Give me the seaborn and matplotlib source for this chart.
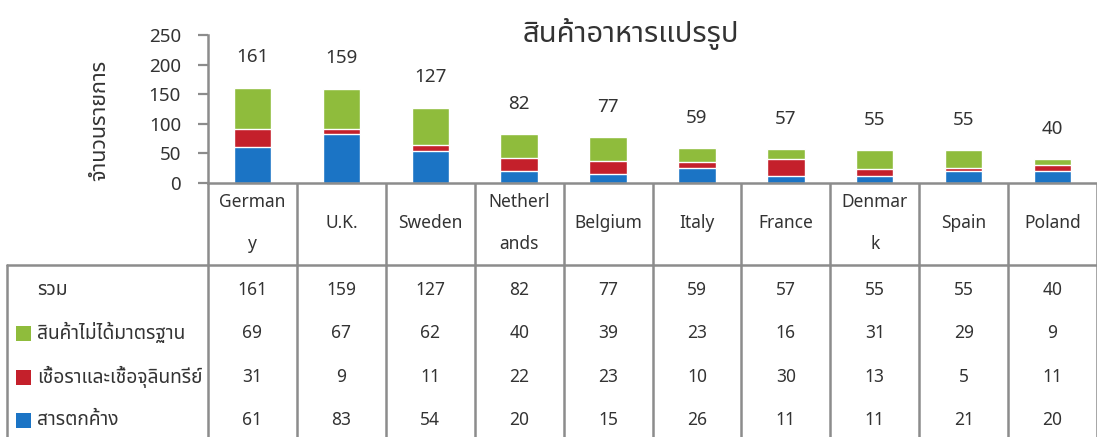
import numpy as np
import pandas as pd
import matplotlib
matplotlib.use("Agg")
import matplotlib.pyplot as plt
import matplotlib.transforms as mtrans
from matplotlib import font_manager as fm
from matplotlib.ft2font import FT2Font
from matplotlib.patches import Rectangle
import seaborn as sns

# ---------------- data ----------------
title = "สินค้าอาหารแปรรูป"
ylabel = "จำนวนรายการ"
countries = ["Germany", "U.K.", "Sweden", "Netherlands", "Belgium",
             "Italy", "France", "Denmark", "Spain", "Poland"]
header_labels = ["German\ny", "U.K.", "Sweden", "Netherl\nands", "Belgium",
                 "Italy", "France", "Denmar\nk", "Spain", "Poland"]
total_label = "รวม"
series_names = ["สินค้าไม่ได้มาตรฐาน", "เชื้อราและเชื้อจุลินทรีย์", "สารตกค้าง"]
substandard = [69, 67, 62, 40, 39, 23, 16, 31, 29, 9]      # green
mould = [31, 9, 11, 22, 23, 10, 30, 13, 5, 11]              # red
residue = [61, 83, 54, 20, 15, 26, 11, 11, 21, 20]          # blue
totals = [161, 159, 127, 82, 77, 59, 57, 55, 55, 40]
yticks = [0, 50, 100, 150, 200, 250]

GREEN = "#8fbc3c"
RED = "#c4202b"
BLUE = "#1b74c5"
GRID = "#8c8c8c"
TXT = "#333333"

# ---------------- fonts ----------------
def find_thai_font():
    prefs = ["Noto Sans Thai", "Noto Sans Thai UI", "Sarabun", "TH Sarabun New",
             "Loma", "Garuda", "Tlwg Typo", "Waree", "Umpush", "Norasi",
             "Kinnari", "Laksaman", "Tahoma", "FreeSans", "FreeSerif"]
    found = {}
    for f in fm.fontManager.ttflist:
        try:
            cm = FT2Font(f.fname).get_charmap()
        except Exception:
            continue
        if 0x0E2A in cm and 0x0E19 in cm:
            found.setdefault(f.name, f.fname)
    for p in prefs:
        if p in found:
            return p
    return next(iter(found), None)

sns.set_style("white")
thai = find_thai_font()
families = ([thai] if thai else []) + ["DejaVu Sans"]
plt.rcParams["font.family"] = families

# ---------------- figure ----------------
W, H = 1097, 437
fig = plt.figure(figsize=(W / 100, H / 100), dpi=100)

def fx(px):
    return px / W

def fy(py):
    return 1 - py / H

ax_left, ax_right = 208, 1097
ax_top, ax_bottom = 35, 183
ax = fig.add_axes([fx(ax_left), fy(ax_bottom), fx(ax_right - ax_left), (ax_bottom - ax_top) / H])

df = pd.DataFrame({
    "country": countries,
    "blue": residue,
    "red": np.add(residue, mould),
    "green": np.add(np.add(residue, mould), substandard),
})

bw = 0.42
sns.barplot(data=df, x="country", y="green", color=GREEN, saturation=1, width=bw, ax=ax, order=countries)
sns.barplot(data=df, x="country", y="red", color=RED, saturation=1, width=bw, ax=ax, order=countries)
sns.barplot(data=df, x="country", y="blue", color=BLUE, saturation=1, width=bw, ax=ax, order=countries)

ax.set_xlim(-0.5, len(countries) - 0.5)
ax.set_ylim(0, 250)
ax.set_yticks(yticks)
ax.set_yticklabels([str(t) for t in yticks], fontsize=13.5, color=TXT)
ax.set_xlabel("")
ax.set_ylabel("")
ax.tick_params(axis="x", bottom=False, labelbottom=False)
ax.tick_params(axis="y", left=True, length=7.5, width=1.6, color=GRID, pad=12)
for s in ["top", "right"]:
    ax.spines[s].set_visible(False)
for s in ["left", "bottom"]:
    ax.spines[s].set_color(GRID)
    ax.spines[s].set_linewidth(1.8)
ax.patch.set_alpha(0)

for i, t in enumerate(totals):
    ax.annotate(str(t), xy=(i, t), xytext=(0, 22), textcoords="offset points",
                ha="center", va="center", fontsize=13.5, color=TXT)

fig.text(fx(631), fy(34), title, ha="center", va="center", fontsize=21, color=TXT)
fig.text(fx(100), fy(120), ylabel, ha="center", va="center", rotation=90, fontsize=15.5, color=TXT)

# ---------------- table ----------------
trans = mtrans.blended_transform_factory(ax.transData, fig.transFigure)
n = len(countries)
for k in range(n + 1):
    xb = k - 0.5
    ax.plot([xb, xb], [fy(ax_bottom), 0], transform=trans, color=GRID, lw=1.8,
            clip_on=False, solid_capstyle="butt")
# horizontal line below header, and left border of table
fig.add_artist(plt.Line2D([fx(7), 1], [fy(265), fy(265)], color=GRID, lw=1.8))
fig.add_artist(plt.Line2D([fx(7), fx(7)], [fy(265), 0], color=GRID, lw=1.8))

# header
for i, lab in enumerate(header_labels):
    ax.text(i, fy(223), lab, transform=trans, ha="center", va="center",
            fontsize=12.5, color=TXT, linespacing=2.75)

row_y = [290, 333, 377, 420]
row_vals = [totals, substandard, mould, residue]
row_names = [total_label] + series_names
row_cols = [None, GREEN, RED, BLUE]
for r in range(4):
    yy = fy(row_y[r])
    for i, v in enumerate(row_vals[r]):
        ax.text(i, yy, str(v), transform=trans, ha="center", va="center",
                fontsize=12.5, color=TXT)
    if row_cols[r] is None:
        fig.text(fx(37), yy, row_names[r], ha="left", va="center", fontsize=13.8, color=TXT)
    else:
        fig.add_artist(Rectangle((fx(16), yy - 7.5 / H), 15 / W, 15 / H,
                                 transform=fig.transFigure, color=row_cols[r], lw=0))
        fig.text(fx(37), yy, row_names[r], ha="left", va="center", fontsize=13.8, color=TXT)

fig.savefig("out.png", dpi=100)
